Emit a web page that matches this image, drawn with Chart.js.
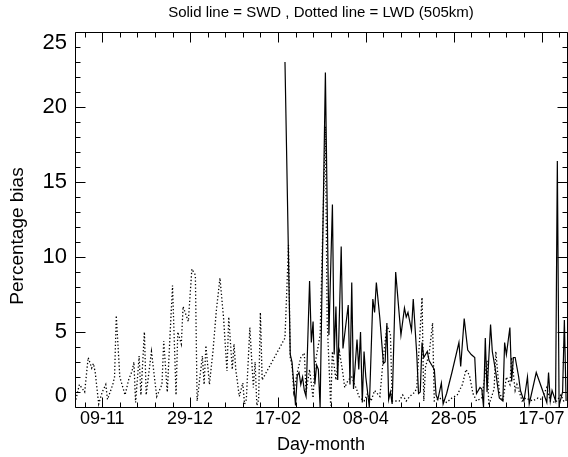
<!DOCTYPE html>
<html>
<head>
<meta charset="utf-8">
<script src="https://cdn.jsdelivr.net/npm/chart.js@4/dist/chart.umd.min.js"></script>
<style>
html,body{margin:0;padding:0;background:#fff;overflow:hidden}
#wrap{width:568px;height:457px}
</style>
</head>
<body>
<div id="wrap"><canvas id="c" width="568" height="457"></canvas></div>
<script>
// Day offsets counted from 09-11 (day 0)
const tickDays   = [0, 50, 100, 150, 200, 250];
const tickLabels = ['09-11', '29-12', '17-02', '08-04', '28-05', '17-07'];
const yTickValues = [0, 5, 10, 15, 20, 25];

// LWD (dotted line)
const lwdDays = [-15,-13,-10,-8,-6,-5,-4,-2,0,2,3,6,7,8,10,13,15,17,18,19,21,22,24,25,28,31,34,35,37,40,42,43,45,46,49,51,53,54,57,58,59,61,63,65,67,69,71,72,74,75,76,78,80,81,82,84,86,87,88,89,90,91,
  104,106,107,108,109,111,113,115,116,118,120,121,124,127,128,130,131,133,135,137,138,140,142,145,146,149,151,153,155,158,160,162,164,165,169,171,173,175,178,179,182,183,184,186,188,189,192,196,199,202,205,207,209,211,213,216,219,220,223,224,226,228,230,232,233,235,236,239,241,245,248,250,253,255,258,261,263];
const lwdValues = [0.5,1.5,1.0,3.3,2.6,2.9,2.3,0.2,1.0,1.5,0.5,1.5,2.0,6.1,2.0,0.8,1.8,2.4,3.0,0.3,3.4,0.8,5.0,0.8,3.7,0.7,1.5,4.4,1.0,8.1,0.8,5.0,4.2,6.7,5.7,9.2,8.8,0.4,3.4,1.5,4.1,1.5,3.7,6.5,8.6,6.0,2.4,6.0,2.5,4.2,2.5,0.7,1.6,0.2,0.5,5.3,1.3,3.0,0.1,0.5,6.3,1.8,
  4.6,10.8,3.3,2.8,1.0,2.3,3.3,3.6,1.0,2.5,0.6,2.8,4.8,18.7,5.8,0.1,3.7,1.8,3.7,2.2,1.3,1.8,2.0,1.1,0.7,0.4,0.9,0.4,1.1,0.7,3.3,5.4,4.9,0.4,0.4,0.8,0.4,0.7,1.0,1.3,7.3,0.4,2.7,3.5,5.6,0.4,0.6,0.3,0.6,0.8,1.5,2.5,2.1,0.9,0.4,0.6,3.1,0.1,1.2,3.7,1.0,0.4,2.0,1.5,3.3,1.1,1.5,0.4,0.6,0.4,0.6,0.5,1.3,0.4,0.3,0.8,0.3];

// SWD (solid line)
const swdDays = [104,107,108,110,111,112,113,114,115,116,118,119,120,121,122,123,124,127,129,131,132,133,134,136,137,140,141,142,143,145,146,147,148,149,150,152,154,155,156,158,160,161,162,163,164,165,167,170,172,173,174,176,177,179,180,181,182,183,185,186,188,189,190,191,193,194,196,199,203,204,206,208,210,212,213,215,216,217,218,219,221,222,224,225,226,228,229,230,232,233,234,235,237,238,240,242,243,247,250,253,254,255,256,258,259,260,262,263,264];
const swdValues = [23.0,3.5,3.0,0.1,2.1,2.3,1.5,2.0,1.1,0.7,8.4,4.3,5.7,1.5,2.8,2.5,0.0,22.3,4.8,13.5,3.5,6.7,1.8,10.7,3.9,6.8,1.5,8.3,1.2,4.5,2.5,5.0,0.3,3.7,2.0,0.0,7.2,6.3,8.3,5.9,2.9,3.0,5.6,0.5,1.0,0.2,9.0,4.8,6.6,6.0,6.3,5.1,7.2,3.5,0.9,1.0,4.3,3.3,3.7,3.1,2.7,2.5,0.8,0.5,1.6,0.2,0.9,2.3,4.3,2.7,5.9,3.8,3.5,3.3,0.9,1.3,1.2,0.0,4.6,1.0,5.5,3.7,2.3,1.4,0.6,0.4,4.3,3.5,5.3,1.7,3.3,3.3,2.0,1.1,0.4,2.0,0.2,2.3,1.3,0.3,2.3,0.4,1.1,0.4,16.4,0.1,1.0,5.8,0.4];

const FONT = '"Liberation Sans", Arial, Helvetica, sans-serif';
Chart.defaults.font.family = FONT;
Chart.defaults.color = '#000';

const toPoints = (days, vals) => days.map((d, i) => ({ x: d, y: vals[i] }));

// Box frame with inward major/minor ticks on all four sides (IDL style)
const frameTicks = {
  id: 'frameTicks',
  afterDraw(chart) {
    const { ctx, chartArea: a } = chart;
    const xs = chart.scales.x, ys = chart.scales.y;
    const L = Math.round(a.left) + 0.5, R = Math.round(a.right) + 0.5;
    const T = Math.round(a.top) + 0.5, B = Math.round(a.bottom) + 0.5;
    ctx.save();
    ctx.strokeStyle = '#000';
    ctx.lineWidth = 1;
    ctx.setLineDash([]);
    ctx.beginPath();
    ctx.rect(L, T, R - L, B - T);
    ctx.stroke();

    ctx.beginPath();
    for (let d = Math.ceil(xs.min / 10) * 10; d <= xs.max; d += 10) {
      const px = Math.round(xs.getPixelForValue(d)) + 0.5;
      const len = tickDays.includes(d) ? 10 : 5;
      ctx.moveTo(px, B); ctx.lineTo(px, B - len);
      ctx.moveTo(px, T); ctx.lineTo(px, T + len);
    }
    for (let v = Math.ceil(ys.min); v <= ys.max; v += 1) {
      const py = Math.round(ys.getPixelForValue(v)) + 0.5;
      const len = yTickValues.includes(v) ? 10 : 5;
      ctx.moveTo(L, py); ctx.lineTo(L + len, py);
      ctx.moveTo(R, py); ctx.lineTo(R - len, py);
    }
    ctx.stroke();

    // y axis title
    ctx.fillStyle = '#000';
    ctx.font = '19px ' + FONT;
    ctx.textAlign = 'center';
    ctx.textBaseline = 'middle';
    ctx.translate(18, 236);
    ctx.rotate(-Math.PI / 2);
    ctx.fillText('Percentage bias', 0, 0);
    ctx.restore();
  }
};

new Chart(document.getElementById('c'), {
  type: 'line',
  data: {
    datasets: [
      {
        label: 'LWD',
        data: toPoints(lwdDays, lwdValues),
        borderColor: '#000',
        borderWidth: 1.3,
        borderDash: [1.3, 2.2],
        pointRadius: 0,
        tension: 0,
        fill: false
      },
      {
        label: 'SWD',
        data: toPoints(swdDays, swdValues),
        borderColor: '#000',
        borderWidth: 1.2,
        pointRadius: 0,
        tension: 0,
        fill: false
      }
    ]
  },
  options: {
    responsive: false,
    animation: false,
    events: [],
    layout: { padding: { left: 0, right: 1, top: 0, bottom: 0 } },
    plugins: {
      legend: { display: false },
      tooltip: { enabled: false },
      title: {
        display: true,
        fullSize: false,
        text: 'Solid line = SWD , Dotted line = LWD (505km)',
        color: '#000',
        font: { family: FONT, size: 15, weight: 'normal', lineHeight: 1.2 },
        padding: { top: 3.5, bottom: 10.5 }
      }
    },
    scales: {
      x: {
        type: 'linear',
        min: -15.5,
        max: 264.5,
        grid: { display: false, drawTicks: false },
        border: { display: false },
        afterFit: s => { s.height = 50; },
        afterBuildTicks: s => { s.ticks = tickDays.map(d => ({ value: d })); },
        ticks: {
          autoSkip: false,
          maxRotation: 0,
          padding: 1,
          color: '#000',
          font: { size: 18 },
          callback: v => { const i = tickDays.indexOf(v); return i >= 0 ? tickLabels[i] : ''; }
        },
        title: {
          display: true,
          text: 'Day-month',
          color: '#000',
          font: { size: 18 },
          padding: { top: 0, bottom: 1 }
        }
      },
      y: {
        min: 0,
        max: 25,
        grid: { display: false, drawTicks: false },
        border: { display: false },
        afterFit: s => { s.width = 75; },
        afterBuildTicks: s => { s.ticks = yTickValues.map(v => ({ value: v })); },
        ticks: {
          autoSkip: false,
          padding: 8,
          color: '#000',
          font: { size: 22, lineHeight: 1 },
          callback: v => {
            if (v === 0) return ['0', ''];
            if (v === 25) return ['', '25'];
            return String(v);
          }
        }
      }
    }
  },
  plugins: [frameTicks]
});
</script>
</body>
</html>
